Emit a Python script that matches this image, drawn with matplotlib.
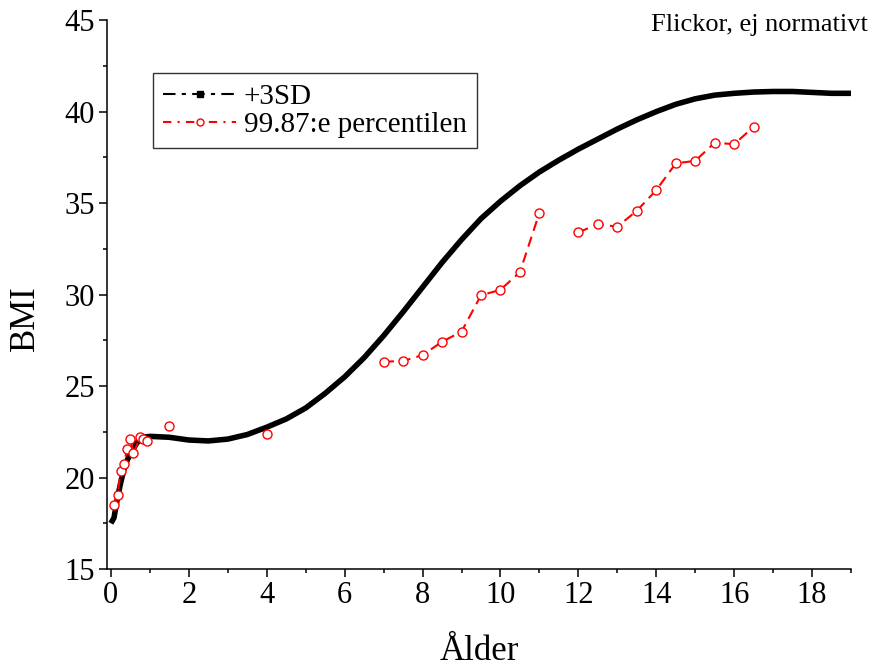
import matplotlib
matplotlib.use("Agg")
import matplotlib.pyplot as plt
from matplotlib.lines import Line2D
from matplotlib.ticker import MultipleLocator
import numpy as np

# +3SD reference curve (age in years, BMI)
sd3_age = [0, 0.08, 0.17, 0.25, 0.33, 0.42, 0.5, 0.67, 0.83, 1.0, 1.5, 2.0, 2.5,
           3.0, 3.5, 4.0, 4.5, 5.0, 5.5, 6.0, 6.5, 7.0, 7.5, 8.0, 8.5, 9.0, 9.5,
           10.0, 10.5, 11.0, 11.5, 12.0, 12.5, 13.0, 13.5, 14.0, 14.5, 15.0,
           15.5, 16.0, 16.5, 17.0, 17.5, 18.0, 18.5, 19.0]
sd3_bmi = [17.5, 17.8, 18.9, 19.7, 20.4, 20.95, 21.3, 21.9, 22.2, 22.25, 22.2,
           22.05, 22.0, 22.1, 22.35, 22.75, 23.2, 23.8, 24.6, 25.5, 26.55, 27.75,
           29.05, 30.4, 31.75, 33.0, 34.15, 35.1, 35.95, 36.7, 37.35, 37.95,
           38.5, 39.05, 39.55, 40.0, 40.4, 40.7, 40.9, 41.0, 41.07, 41.1, 41.1,
           41.05, 41.0, 41.0]

# 99.87:e percentilen (NaN = gap in line)
p_age = [0.08, 0.17, 0.25, 0.33, 0.42, 0.5, 0.58, 0.75, 0.83, 0.92, np.nan,
         1.5, np.nan, 4.0, np.nan,
         7.0, 7.5, 8.0, 8.5, 9.0, 9.5, 10.0, 10.5, 11.0, np.nan,
         12.0, 12.5, 13.0, 13.5, 14.0, 14.5, 15.0, 15.5, 16.0, 16.5]
p_bmi = [18.5, 19.04, 20.36, 20.74, 21.56, 22.09, 21.32, 22.2, 22.09, 22.0, np.nan,
         22.81, np.nan, 22.38, np.nan,
         26.33, 26.37, 26.69, 27.42, 27.97, 29.96, 30.26, 31.23, 34.47, np.nan,
         33.4, 33.85, 33.71, 34.58, 35.71, 37.17, 37.31, 38.3, 38.22, 39.17]

plt.rcParams['font.family'] = ['Liberation Serif', 'DejaVu Serif']

fig = plt.figure(figsize=(8.72, 6.71), dpi=100)
ax = fig.add_axes([0.1227, 0.152, 0.8533, 0.818])

ax.plot(sd3_age, sd3_bmi, color='black', lw=4.0, solid_capstyle='butt')
ax.plot(p_age, p_bmi, color='red', lw=1.5, ls=(0, (5, 3)),
        marker='o', markersize=6.5, markerfacecolor='white',
        markeredgecolor='red', markeredgewidth=1.0)

ax.set_xlim(-0.1, 19)
ax.set_ylim(15, 45)
ax.xaxis.set_major_locator(MultipleLocator(2))
ax.xaxis.set_minor_locator(MultipleLocator(1))
ax.yaxis.set_major_locator(MultipleLocator(5))
ax.yaxis.set_minor_locator(MultipleLocator(2.5))

for s in ['top', 'right']:
    ax.spines[s].set_visible(False)
for s in ['left', 'bottom']:
    ax.spines[s].set_linewidth(1.1)

ax.tick_params(which='major', direction='out', length=5.5, width=1.1,
               labelsize=22, pad=3)
ax.tick_params(which='minor', direction='out', length=3, width=1.1)

ax.set_xlabel('Ålder', fontsize=25, labelpad=18)
ax.set_ylabel('BMI', fontsize=25)
ax.yaxis.set_label_coords(-0.087, 0.457)

handles = [
    Line2D([], [], color='black', ls=(0, (6, 3, 2, 3)), lw=1.5, marker='s',
           markersize=4),
    Line2D([], [], color='red', ls=(0, (4, 3, 1, 3)), lw=1.5, marker='o',
           markersize=5, markerfacecolor='white', markeredgecolor='red'),
]
leg = ax.legend(handles, ['+3SD', '99.87:e percentilen'], loc='upper left',
                bbox_to_anchor=(0.062, 0.903), borderaxespad=0, fontsize=21,
                frameon=True, fancybox=False, edgecolor='black',
                handlelength=2.5, handletextpad=0.25, borderpad=0.35,
                labelspacing=0.05, numpoints=1)
leg.get_frame().set_linewidth(1.0)

fig.text(0.995, 1 - 25 / 671, 'Flickor, ej normativt', ha='right',
         va='center', fontsize=19)

fig.savefig('out.png', dpi=100)
